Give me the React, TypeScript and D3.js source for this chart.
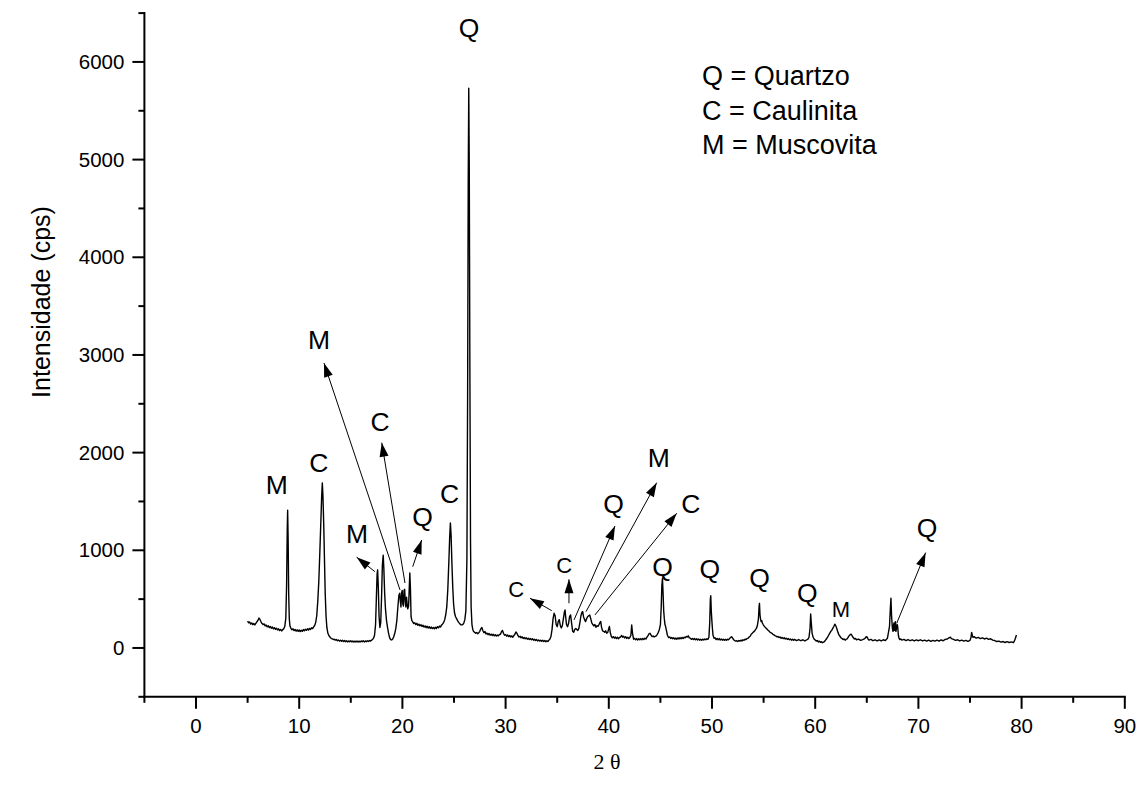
import React from "react";
import * as d3 from "d3";

// ---- scan data: [2θ, intensity (cps)] ----
const scanLow: [number, number][] = [
  [5.0,275],[5.1,258],[5.2,266],[5.3,244],[5.4,256],[5.5,238],[5.6,250],[5.7,236],[5.8,252],[5.9,268],[6.0,282],[6.1,306],[6.2,292],[6.3,268],[6.4,250],[6.5,240],[6.6,246],[6.7,226],[6.8,234],[6.9,216],[7.0,228],[7.1,208],[7.2,220],[7.3,202],[7.4,214],[7.5,196],[7.6,208],[7.7,190],[7.8,202],[7.9,184],[8.0,196],[8.1,178],[8.2,190],[8.3,174],[8.4,188],[8.5,196],[8.6,220],[8.7,300],[8.78,650],[8.84,1200],[8.88,1410],[8.93,1100],[8.98,560],[9.04,300],[9.1,228],[9.2,200],[9.3,186],[9.4,196],[9.5,178],[9.6,190],[9.7,172],[9.8,186],[9.9,170],[10.0,184],[10.1,168],[10.2,182],[10.3,170],[10.4,188],[10.5,176],[10.6,192],[10.7,180],[10.8,196],[10.9,184],[11.0,200],[11.1,190],[11.2,206],[11.3,198],[11.4,216],[11.5,230],[11.6,262],[11.7,330],[11.8,480],[11.9,680],[12.0,980],[12.1,1300],[12.18,1560],[12.24,1690],[12.3,1560],[12.38,1250],[12.45,900],[12.52,560],[12.6,330],[12.68,210],[12.78,150],[12.9,122],[13.0,110],[13.1,98],[13.2,94],[13.3,86],[13.4,90]
];
const scanMid1: [number, number][] = [
  [13.5,80],[13.6,86],[13.7,74],[13.8,82],[13.9,70],[14.0,80],[14.1,68],[14.2,78],[14.3,66],[14.4,76],[14.5,64],[14.6,74],[14.7,62],[14.8,72],[14.9,64],[15.0,74],[15.1,62],[15.2,72],[15.3,60],[15.4,70],[15.5,62],[15.6,72],[15.7,60],[15.8,70],[15.9,62],[16.0,72],[16.1,64],[16.2,74],[16.3,62],[16.4,72],[16.5,64],[16.6,74],[16.7,66],[16.8,76],[16.9,70],[17.0,80],[17.1,86],[17.2,100],[17.3,130],[17.4,240],[17.48,520],[17.55,760],[17.6,800],[17.66,640],[17.74,320],[17.82,210],[17.9,260],[17.98,520],[18.06,850],[18.14,950],[18.2,820],[18.28,560],[18.36,400],[18.46,280],[18.56,210],[18.66,150],[18.76,105],[18.86,86],[18.96,82],[19.06,92],[19.16,115],[19.26,150],[19.36,200],[19.46,280],[19.56,420],[19.66,540],[19.74,560],[19.8,480],[19.86,420],[19.92,560],[19.98,590],[20.04,450],[20.1,430],[20.16,590],[20.22,600],[20.28,470],[20.34,420],[20.4,520],[20.46,450],[20.52,400],[20.6,430],[20.66,600],[20.72,768],[20.78,600],[20.84,320],[20.92,280]
];
const scanMid2: [number, number][] = [
  [21.0,268],[21.1,250],[21.2,258],[21.3,240],[21.4,252],[21.5,232],[21.6,244],[21.7,226],[21.8,238],[21.9,220],[22.0,232],[22.1,214],[22.2,226],[22.3,208],[22.4,222],[22.5,204],[22.6,218],[22.7,200],[22.8,214],[22.9,198],[23.0,210],[23.1,196],[23.2,212],[23.3,200],[23.4,218],[23.5,206],[23.6,224],[23.7,214],[23.8,236],[23.9,246],[24.0,262],[24.1,290],[24.2,340],[24.3,420],[24.4,600],[24.5,880],[24.58,1130],[24.65,1280],[24.72,1150],[24.8,860],[24.88,620],[24.96,450],[25.05,360],[25.15,320],[25.25,300],[25.35,280],[25.45,262],[25.55,250],[25.65,238],[25.75,236],[25.85,240],[25.95,254],[26.05,290],[26.15,380],[26.25,900],[26.32,2600],[26.38,4800],[26.43,5730],[26.48,4900],[26.54,2800],[26.6,1100],[26.66,420],[26.74,240],[26.82,190],[26.9,168],[27.0,160],[27.1,150],[27.2,158],[27.3,146],[27.4,156],[27.5,170],[27.6,196],[27.7,210],[27.8,176],[27.9,156],[28.0,168],[28.1,144],[28.2,152],[28.3,136],[28.4,148],[28.5,130],[28.6,142],[28.7,128],[28.8,140],[28.9,124],[29.0,136],[29.1,122],[29.2,132],[29.3,124],[29.4,138],[29.5,140],[29.6,166],[29.7,180],[29.8,148],[29.9,130],[30.0,138],[30.1,120],[30.2,132],[30.3,116],[30.4,128],[30.5,112],[30.6,124],[30.7,110],[30.8,126],[30.9,140],[31.0,164],[31.1,150],[31.2,126],[31.3,112],[31.4,120],[31.5,104],[31.6,114],[31.7,98],[31.8,108],[31.9,94],[32.0,104],[32.1,90],[32.2,100],[32.3,86],[32.4,96],[32.5,84],[32.6,94],[32.7,80],[32.8,90],[32.9,76],[33.0,86],[33.1,72],[33.2,82],[33.3,70],[33.4,80],[33.5,68],[33.6,78],[33.7,66],[33.8,76],[33.9,64],[34.0,74],[34.1,66],[34.2,80],[34.3,92],[34.4,120],[34.5,190]
];
const scanMid3: [number, number][] = [
  [34.6,300],[34.7,355],[34.8,330],[34.9,240],[35.0,218],[35.1,270],[35.2,290],[35.3,230],[35.4,205],[35.5,230],[35.6,300],[35.7,370],[35.76,389],[35.82,320],[35.9,240],[36.0,218],[36.1,250],[36.2,320],[36.3,338],[36.4,250],[36.5,170],[36.6,160],[36.7,190],[36.8,200],[36.9,190],[37.0,180],[37.1,200],[37.2,260],[37.3,330],[37.4,365],[37.47,372],[37.55,320],[37.65,290],[37.75,270],[37.85,300],[37.95,320],[38.05,330],[38.15,338],[38.25,300],[38.35,256],[38.45,240],[38.55,226],[38.65,240],[38.75,212],[38.85,228],[38.95,222],[39.05,240],[39.15,262],[39.22,270],[39.3,210],[39.4,176],[39.5,170],[39.6,160],[39.7,176],[39.8,150],[39.9,160],[40.0,200],[40.06,220],[40.14,160],[40.24,120],[40.34,104],[40.44,116],[40.54,100],[40.64,112],[40.74,96],[40.84,110],[40.94,94],[41.04,108],[41.14,112],[41.24,128],[41.34,110],[41.44,120],[41.54,102],[41.64,114],[41.74,98],[41.84,110],[41.94,96],[42.04,108],[42.14,130],[42.22,235],[42.3,150],[42.4,90],[42.5,98],[42.6,84],[42.7,96],[42.8,82],[42.9,94],[43.0,84],[43.1,96],[43.2,84],[43.3,98],[43.4,86],[43.5,100],[43.6,92],[43.7,110],[43.8,126],[43.9,146],[44.0,150],[44.1,130],[44.2,116],[44.3,122],[44.4,112],[44.5,120],[44.6,124],[44.7,140],[44.8,160],[44.9,190],[45.0,240],[45.08,420],[45.14,640],[45.2,713],[45.26,560],[45.32,380],[45.38,300],[45.44,240],[45.5,222],[45.58,180],[45.68,130],[45.8,106]
];
const scanHigh1: [number, number][] = [
  [45.9,112],[46.0,98],[46.1,108],[46.2,94],[46.3,104],[46.4,90],[46.5,102],[46.6,90],[46.7,104],[46.8,92],[46.9,106],[47.0,94],[47.1,108],[47.2,96],[47.3,110],[47.4,104],[47.5,118],[47.6,112],[47.7,124],[47.8,104],[47.9,100],[48.0,88],[48.1,98],[48.2,86],[48.3,96],[48.4,84],[48.5,94],[48.6,82],[48.7,92],[48.8,80],[48.9,90],[49.0,80],[49.1,90],[49.2,82],[49.3,92],[49.4,84],[49.5,94],[49.6,88],[49.7,110],[49.78,260],[49.84,500],[49.88,535],[49.93,380],[49.98,290],[50.04,200],[50.1,130],[50.2,100],[50.3,104],[50.4,86],[50.5,98],[50.6,84],[50.7,96],[50.8,82],[50.9,92],[51.0,80],[51.1,90],[51.2,78],[51.3,88],[51.4,78],[51.5,90],[51.6,84],[51.7,96],[51.8,106],[51.9,116],[52.0,100],[52.1,84],[52.2,76],[52.3,70],[52.4,74],[52.5,66],[52.6,76],[52.7,70],[52.8,80],[52.9,72],[53.0,84],[53.1,78],[53.2,90],[53.3,86],[53.4,96],[53.5,100],[53.6,112],[53.7,120],[53.8,140],[53.9,150],[54.0,162],[54.1,170],[54.2,186],[54.3,200],[54.4,230],[54.5,300],[54.56,420],[54.6,457],[54.65,340],[54.7,300],[54.76,270],[54.82,280],[54.88,256],[54.96,240],[55.04,226],[55.12,216],[55.2,206],[55.3,196],[55.4,184],[55.5,176],[55.6,164],[55.7,156],[55.8,150],[55.9,140],[56.0,134],[56.1,126],[56.2,122],[56.3,114],[56.4,118],[56.5,106],[56.6,112],[56.7,100],[56.8,108],[56.9,96],[57.0,104],[57.1,92],[57.2,100],[57.3,88],[57.4,96],[57.5,84],[57.6,92],[57.7,80],[57.8,90],[57.9,78]
];
const scanHigh2: [number, number][] = [
  [58.0,88],[58.2,76],[58.4,86],[58.6,74],[58.8,84],[59.0,72],[59.2,84],[59.3,90],[59.4,110],[59.5,200],[59.56,348],[59.62,260],[59.7,150],[59.8,110],[59.9,90],[60.0,82],[60.1,70],[60.2,76],[60.3,62],[60.4,70],[60.5,58],[60.6,64],[60.7,54],[60.8,60],[60.9,66],[61.0,80],[61.1,94],[61.2,110],[61.3,130],[61.4,150],[61.5,168],[61.6,180],[61.7,200],[61.8,220],[61.9,243],[62.0,226],[62.1,196],[62.2,160],[62.3,134],[62.4,120],[62.5,104],[62.6,96],[62.7,86],[62.8,92],[62.9,80],[63.0,90],[63.1,94],[63.2,110],[63.3,126],[63.4,138],[63.5,140],[63.6,120],[63.7,104],[63.8,92],[63.9,98],[64.0,84],[64.2,90],[64.4,78],[64.6,86],[64.8,96],[64.9,110],[65.0,116],[65.1,96],[65.2,80],[65.4,88],[65.6,74],[65.8,84],[66.0,72],[66.2,82],[66.4,72],[66.6,84],[66.8,76],[66.9,88],[67.0,100],[67.1,160],[67.2,220],[67.28,400],[67.34,509],[67.4,330],[67.48,200],[67.54,170],[67.6,240],[67.64,256],[67.68,180],[67.72,200],[67.77,270],[67.82,170],[67.88,200],[67.94,240],[67.99,220],[68.06,130],[68.12,100],[68.2,86],[68.3,92],[68.4,80],[68.6,88],[68.8,76],[69.0,86],[69.2,74],[69.4,84],[69.6,72],[69.8,82],[70.0,74],[70.2,84],[70.4,72],[70.6,80],[70.8,70],[71.0,80],[71.2,68],[71.4,78],[71.6,70],[71.8,80],[72.0,70],[72.2,82],[72.4,74],[72.6,88],[72.8,92],[73.0,106],[73.1,110],[73.2,96],[73.4,88],[73.6,78],[73.8,84],[74.0,72],[74.2,80],[74.4,70],[74.6,78],[74.8,68],[75.0,78],[75.1,110],[75.16,160],[75.24,120],[75.3,108],[75.4,116],[75.6,100],[75.8,108],[76.0,96],[76.2,104],[76.4,92],[76.6,100],[76.8,88],[77.0,94],[77.2,80],[77.4,76],[77.6,66],[77.8,70],[78.0,60],[78.2,66],[78.4,56],[78.6,64],[78.8,56],[79.0,62],[79.2,54],[79.3,70],[79.4,100],[79.5,133]
];

// ---- axes ----
const xMajorTicks = [0, 10, 20, 30, 40, 50, 60, 70, 80, 90];
const xMinorTicks = [-5, 5, 15, 25, 35, 45, 55, 65, 75, 85];
const yMajorTicks = [0, 1000, 2000, 3000, 4000, 5000, 6000];
const yMinorTicks = [-500, 500, 1500, 2500, 3500, 4500, 5500, 6500];

// ---- annotations: [text, 2θ, cps] ----
const bigLabels: [string, number, number][] = [
  ["M", 7.83, 1580], ["C", 11.9, 1802], ["M", 11.92, 3061], ["C", 17.83, 2222],
  ["M", 15.6, 1072], ["Q", 21.95, 1249], ["C", 24.58, 1488], ["Q", 26.45, 6260],
  ["Q", 40.47, 1385], ["M", 44.85, 1856], ["C", 47.95, 1379], ["Q", 45.2, 737],
  ["Q", 49.78, 714], ["Q", 54.62, 628], ["Q", 59.23, 474], ["Q", 70.85, 1133],
];
const smallLabels: [string, number, number][] = [
  ["C", 31.03, 525], ["C", 35.68, 771], ["M", 62.48, 320],
];
// arrows: [from 2θ, from cps, to 2θ, to cps]
const arrows: [number, number, number, number][] = [
  [19.77, 594, 12.4, 2918],
  [20.25, 665, 18.0, 2102],
  [17.34, 781, 15.57, 929],
  [21.0, 832, 21.87, 1106],
  [34.47, 382, 32.36, 509],
  [36.14, 458, 36.14, 703],
  [36.63, 287, 40.6, 1249],
  [37.79, 372, 44.64, 1692],
  [38.66, 338, 46.58, 1379],
  [67.9, 253, 70.7, 976],
];
const legendLines = ["Q = Quartzo", "C = Caulinita", "M = Muscovita"];

const W = 1142;
const H = 785;
const SANS = "'Liberation Sans', Arial, Helvetica, sans-serif";

export default function App() {
  const x = d3.scaleLinear().domain([-5, 90]).range([144.4, 1124.8]);
  const y = d3.scaleLinear().domain([-500, 6500]).range([696.8, 13.1]);
  const scan = [...scanLow, ...scanMid1, ...scanMid2, ...scanMid3, ...scanHigh1, ...scanHigh2];
  const line = d3.line<[number, number]>().x((d) => x(d[0])).y((d) => y(d[1]));
  const x0 = x(-5);
  const yb = y(-500);

  const arrowHead = (x1: number, y1: number, x2: number, y2: number) => {
    const ang = Math.atan2(y2 - y1, x2 - x1);
    const L = 14, Wd = 4.5;
    const bx = x2 - L * Math.cos(ang), by = y2 - L * Math.sin(ang);
    const px = -Math.sin(ang) * Wd, py = Math.cos(ang) * Wd;
    return `M${x2},${y2}L${bx + px},${by + py}L${bx - px},${by - py}Z`;
  };

  return (
    <svg width={W} height={H} style={{ position: "absolute", left: 0, top: 0, background: "#fff" }}>
      <rect width={W} height={H} fill="#fff" />
      {/* curve */}
      <path d={line(scan) || ""} fill="none" stroke="#000" strokeWidth={1.4} strokeLinejoin="round" />

      {/* axes */}
      <g stroke="#000" strokeWidth={2} fill="none">
        <line x1={x0} y1={y(6500) - 1} x2={x0} y2={yb + 1} />
        <line x1={x0 - 1} y1={yb} x2={x(90) + 1} y2={yb} />
        {yMajorTicks.map((t) => (
          <line key={"ym" + t} x1={x0 - 12} x2={x0} y1={y(t)} y2={y(t)} />
        ))}
        {yMinorTicks.map((t) => (
          <line key={"yn" + t} x1={x0 - 6} x2={x0} y1={y(t)} y2={y(t)} />
        ))}
        {xMajorTicks.map((t) => (
          <line key={"xm" + t} x1={x(t)} x2={x(t)} y1={yb} y2={yb + 12} />
        ))}
        {xMinorTicks.map((t) => (
          <line key={"xn" + t} x1={x(t)} x2={x(t)} y1={yb} y2={yb + 6} />
        ))}
      </g>
      <g fontFamily={SANS} fontSize={20.5} fill="#000">
        {yMajorTicks.map((t) => (
          <text key={"yl" + t} x={x0 - 20} y={y(t) + 7} textAnchor="end">{t}</text>
        ))}
        {xMajorTicks.map((t) => (
          <text key={"xl" + t} x={x(t)} y={yb + 36} textAnchor="middle">{t}</text>
        ))}
      </g>
      <text
        transform={`translate(50,302) rotate(-90)`}
        textAnchor="middle" fontFamily={SANS} fontSize={25} fill="#000"
      >
        Intensidade (cps)
      </text>
      <text x={607} y={769} textAnchor="middle" fontFamily="'Liberation Serif', 'Times New Roman', serif" fontSize={22} fill="#000">
        2 θ
      </text>

      {/* arrows */}
      <g stroke="#000" strokeWidth={1} fill="#000">
        {arrows.map((a, i) => {
          const x1 = x(a[0]), y1 = y(a[1]), x2 = x(a[2]), y2 = y(a[3]);
          return (
            <g key={"ar" + i}>
              <line x1={x1} y1={y1} x2={x2} y2={y2} />
              <path d={arrowHead(x1, y1, x2, y2)} stroke="none" />
            </g>
          );
        })}
      </g>

      {/* peak labels */}
      <g fontFamily={SANS} fill="#000" textAnchor="middle">
        {bigLabels.map((l, i) => (
          <text key={"bl" + i} x={x(l[1])} y={y(l[2])} fontSize={26.5}>{l[0]}</text>
        ))}
        {smallLabels.map((l, i) => (
          <text key={"sl" + i} x={x(l[1])} y={y(l[2])} fontSize={22}>{l[0]}</text>
        ))}
      </g>

      {/* legend */}
      <g fontFamily={SANS} fontSize={27} fill="#000">
        {legendLines.map((s, i) => (
          <text key={"lg" + i} x={702} y={85 + i * 34.5}>{s}</text>
        ))}
      </g>
    </svg>
  );
}
